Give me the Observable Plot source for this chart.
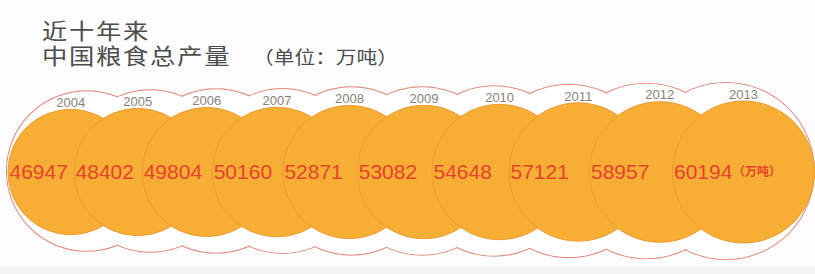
<!DOCTYPE html>
<html lang="zh-CN">
<head>
<meta charset="utf-8">
<script src="https://cdn.jsdelivr.net/npm/d3@7"></script>
<script src="https://cdn.jsdelivr.net/npm/@observablehq/plot@0.6"></script>
<style>
  html, body { margin: 0; padding: 0; }
  body {
    width: 815px; height: 274px; overflow: hidden;
    background: linear-gradient(to bottom, #fdfdfd 0px, #fdfdfd 267px, #f3f3f3 267px, #f3f3f3 274px);
  }
  #title {
    height: 47px; padding: 20px 0 0 42px;
    font-family: "Liberation Sans", "Noto Sans CJK SC", sans-serif; font-weight: 400;
    font-size: 22px; line-height: 24.7px; letter-spacing: 1.5px; color: #4d4d4d;
  }
  #title > div { transform: scale(1.15, 1); transform-origin: 0 0; white-space: nowrap; }
  #title .unit { font-size: 18px; letter-spacing: 0; margin-left: 19px; }
  #chart svg { display: block; }
</style>
</head>
<body>
<div id="title"></div>
<div id="chart"></div>
<script>
// ---- data ----
const years = [2004, 2005, 2006, 2007, 2008, 2009, 2010, 2011, 2012, 2013];
const values = [46947, 48402, 49804, 50160, 52871, 53082, 54648, 57121, 58957, 60194];
const yearLabels = years.map(String);
const unitLabel = "（万吨）";
const titleLine1 = "近十年来";
const titleLine2 = "中国粮食总产量";
const titleUnit = "（单位：万吨）";

// ---- title (one block, two lines) ----
const t = document.getElementById("title");
t.innerHTML = "";
const blk = document.createElement("div");
blk.appendChild(document.createTextNode(titleLine1));
blk.appendChild(document.createElement("br"));
blk.appendChild(document.createTextNode(titleLine2));
const u = document.createElement("span"); u.className = "unit"; u.textContent = titleUnit;
blk.appendChild(u);
t.appendChild(blk);

// ---- layout derived from values ----
const W = 815, H = 207;
const rOf = d3.scaleSqrt().domain([0, d3.max(values)]).range([0, 71]);
const radii = values.map(rOf);
const firstLeft = 7.5, lastCenter = 743, cy = 104.5;
const pairSum = d3.sum(d3.range(values.length - 1), i => values[i] + values[i + 1]);
const k = (lastCenter - (firstLeft + radii[0])) / pairSum;
const cxs = [firstLeft + radii[0]];
for (let i = 1; i < values.length; i++) cxs.push(cxs[i - 1] + k * (values[i - 1] + values[i]));
const mid = 390, squeeze = 0.95;

const rows = values.map((v, i) => ({
  year: yearLabels[i],
  value: v,
  label: String(v),
  r: radii[i],
  cx: cxs[i],
  cy: cy,
  ox: mid + (cxs[i] - mid) * squeeze,
  oy: cy - 1,
  or: radii[i] + 17.5,
  labelY: cy - radii[i] - 6.5,
  textX: cxs[i] - radii[i] + 1.5
}));

const font = "'Liberation Sans', Arial, sans-serif";

const plot = Plot.plot({
  width: W, height: H,
  margin: 0,
  x: {domain: [0, W], range: [0, W], axis: null},
  y: {domain: [0, H], range: [0, H], axis: null},
  r: {type: "linear", domain: [0, 200], range: [0, 200]},
  style: {background: "transparent", overflow: "visible"},
  marks: [
    Plot.dot(rows, {x: "ox", y: "oy", r: "or", fill: "none", stroke: "#e58e80", strokeWidth: 1.2, sort: null}),
    Plot.dot(rows, {x: "ox", y: "oy", r: d => d.or - 0.6, fill: "#ffffff", stroke: "none", sort: null}),
    Plot.dot(rows, {x: "cx", y: "cy", r: "r", fill: "#f7ae35", stroke: "#ef9a30", strokeWidth: 1, sort: null}),
    Plot.text(rows, {x: "textX", y: "cy", text: "label", textAnchor: "start", fill: "#e5432c",
      fontSize: 21, fontFamily: font}),
    Plot.text(rows.slice(-1), {x: "textX", y: "cy", dx: 59, text: () => unitLabel, textAnchor: "start",
      fill: "#e5432c", fontSize: 12, fontWeight: "bold", fontFamily: "'Noto Sans CJK SC', sans-serif"}),
    Plot.text(rows, {x: "cx", y: "labelY", text: "year", fill: "#8a8278", fontSize: 13, fontFamily: font})
  ]
});
document.getElementById("chart").appendChild(plot);
</script>
</body>
</html>
